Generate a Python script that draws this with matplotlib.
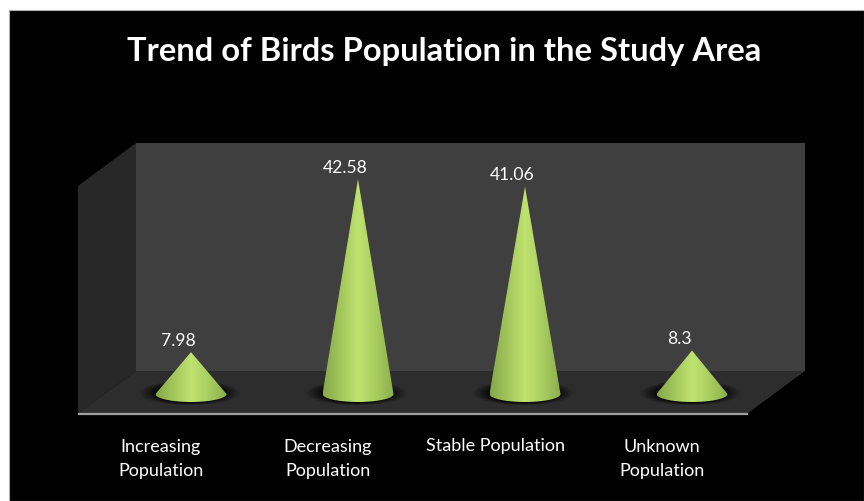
import numpy as np
import matplotlib
matplotlib.use("Agg")
import matplotlib.pyplot as plt
from matplotlib.patches import Polygon, Rectangle, Ellipse, PathPatch
from matplotlib.path import Path

categorias = ["Increasing\nPopulation", "Decreasing\nPopulation", "Stable Population", "Unknown\nPopulation"]
valores = [7.98, 42.58, 41.06, 8.3]
etiquetas = ["7.98", "42.58", "41.06", "8.3"]

ancho, alto = 864, 502
px_x0, px_dx = 191, 167      # centre of the first cone, distance between cones
px_y0, px_dy = 393, 5.0      # height of value 0, pixels per unit
radio = 35.5 / px_dx         # cone base, in category units
radio_y = 8 / px_dy          # ellipse depth, in value units
base = -0.4                  # ellipse centre sits just under zero

plt.rcParams["font.family"] = ["Lato", "DejaVu Sans"]

fig = plt.figure(figsize=(ancho / 100, alto / 100), dpi=100, facecolor="white")

# box of the 3d chart, in pixels
fondo = fig.add_axes([0, 0, 1, 1])
fondo.set_xlim(0, ancho)
fondo.set_ylim(alto, 0)
fondo.axis("off")
fondo.add_patch(Rectangle((9, 11), ancho - 9, alto - 11, fc="black", ec="#b0b0b0", lw=0.8))
fondo.add_patch(Polygon([(136, 144), (805, 144), (805, 372), (136, 372)], fc="#3f3f3f", ec="none"))
fondo.add_patch(Polygon([(78, 187), (136, 144), (136, 372), (78, 414)], fc="#282828", ec="none"))
fondo.add_patch(Polygon([(136, 372), (805, 372), (748, 414), (78, 414)], fc="#2d2d2d", ec="none"))
fondo.plot([78, 748], [415, 415], color="#a0a0a0", lw=1.6, solid_capstyle="butt")

fondo.text(444, 51, "Trend of Birds Population in the Study Area", color="white",
           fontsize=23.6, fontweight="bold", ha="center", va="center")

# cones in data units
ax = fig.add_axes([0, 0, 1, 1], facecolor="none")
ax.axis("off")

verde = matplotlib.colors.LinearSegmentedColormap.from_list(
    "verde", ["#86a84a", "#a4c75c", "#c0e270", "#aacd60", "#8bad4c"])
grad = np.linspace(0, 1, 128).reshape(1, -1)

for i, v in enumerate(valores):
    # soft shadow on the floor
    for k in np.linspace(1.42, 0.9, 40):
        ax.add_patch(Ellipse((i - 0.01, base + 0.2), 2 * radio * k, 2 * radio_y * (0.5 + 0.7 * k),
                             fc="black", ec="none", alpha=0.018))

    t = np.linspace(np.pi, 2 * np.pi, 40)
    xs = i + radio * np.cos(t)
    ys = base + radio_y * np.sin(t)
    verts = [(i, v)] + list(zip(xs, ys)) + [(i, v)]
    codes = [Path.MOVETO] + [Path.LINETO] * (len(verts) - 2) + [Path.CLOSEPOLY]
    borde = PathPatch(Path(verts, codes), fc="none", ec="none", transform=ax.transData)
    ax.add_patch(borde)
    im = ax.imshow(grad, cmap=verde, extent=(i - radio, i + radio, base - radio_y, v),
                   aspect="auto", zorder=3)
    im.set_clip_path(borde)

    ax.text(i - 13 / px_dx, v + 12.5 / px_dy, etiquetas[i], color="white", fontsize=12.6,
            ha="center", va="center", zorder=4)
    ax.text(i - 30 / px_dx, -53.5 / px_dy if "\n" not in categorias[i] else -66 / px_dy,
            categorias[i], color="white", fontsize=13, ha="center", va="center",
            linespacing=1.62, zorder=4)

ax.set_xlim(-px_x0 / px_dx, (ancho - px_x0) / px_dx)
ax.set_ylim((px_y0 - alto) / px_dy, px_y0 / px_dy)

fig.savefig("out.png", dpi=100)
